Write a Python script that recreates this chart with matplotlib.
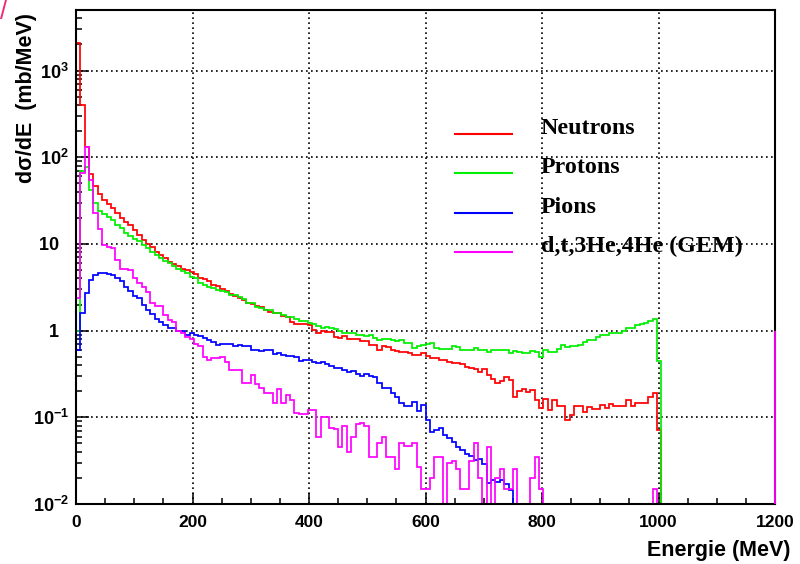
import numpy as np
import matplotlib
matplotlib.use("Agg")
import matplotlib.pyplot as plt
from matplotlib.ticker import MultipleLocator, LogLocator, FuncFormatter, NullFormatter

# histogram: 160 bins of 7.5 MeV from 0 to 1200 MeV, values in mb/MeV
e_min, e_max, n_bins = 0, 1200, 160

neutrons = [
    2060, 400, 130, 64, 47, 38, 32, 29, 25.7, 22.5,
    19.7, 18, 16.5, 14.5, 12.7, 11.1, 10.1, 9.3, 8.1, 7.4,
    6.8, 6.2, 5.8, 5.5, 5.2, 5.0, 4.8, 4.45, 4.1, 3.9,
    3.7, 3.4, 3.25, 3.0, 2.9, 2.65, 2.5, 2.4, 2.28, 2.1,
    2.05, 1.9, 1.85, 1.75, 1.62, 1.6, 1.58, 1.46, 1.44, 1.25,
    1.2, 1.2, 1.18, 1.15, 1.03, 0.95, 1.0, 0.97, 0.97, 0.85,
    0.82, 0.87, 0.79, 0.8, 0.8, 0.76, 0.75, 0.69, 0.69, 0.6,
    0.66, 0.64, 0.6, 0.58, 0.56, 0.56, 0.55, 0.53, 0.52, 0.55,
    0.51, 0.48, 0.48, 0.46, 0.46, 0.43, 0.42, 0.42, 0.41, 0.38,
    0.37, 0.36, 0.33, 0.36, 0.31, 0.28, 0.25, 0.26, 0.29, 0.27,
    0.17, 0.2, 0.21, 0.195, 0.206, 0.157, 0.128, 0.163, 0.123, 0.157,
    0.136, 0.136, 0.094, 0.107, 0.134, 0.134, 0.114, 0.13, 0.125, 0.125,
    0.14, 0.128, 0.144, 0.134, 0.134, 0.136, 0.157, 0.136, 0.147, 0.147,
    0.147, 0.17, 0.19, 0.072,
] + [0] * 26

protons = [
    1.0, 70, 78, 42, 29.5, 24, 22, 20.5, 19, 16.6,
    15.2, 13.3, 12.2, 11.5, 10.7, 9.8, 9.0, 8.1, 7.5, 6.8,
    6.4, 6.0, 5.6, 5.1, 4.9, 4.6, 4.2, 4.0, 3.55, 3.4,
    3.19, 3.1, 2.97, 2.85, 2.77, 2.6, 2.55, 2.45, 2.32, 2.1,
    2.08, 1.88, 1.8, 1.75, 1.72, 1.6, 1.6, 1.53, 1.45, 1.42,
    1.36, 1.3, 1.28, 1.23, 1.2, 1.12, 1.07, 1.09, 1.07, 1.05,
    1.0, 0.94, 0.94, 0.93, 0.9, 0.9, 0.86, 0.88, 0.82, 0.77,
    0.8, 0.79, 0.77, 0.75, 0.78, 0.72, 0.72, 0.63, 0.67, 0.69,
    0.7, 0.72, 0.63, 0.61, 0.61, 0.61, 0.66, 0.65, 0.6, 0.6,
    0.6, 0.63, 0.6, 0.6, 0.57, 0.6, 0.59, 0.6, 0.6, 0.55,
    0.58, 0.56, 0.55, 0.55, 0.58, 0.56, 0.5, 0.6, 0.57, 0.57,
    0.61, 0.68, 0.64, 0.66, 0.66, 0.68, 0.73, 0.78, 0.78, 0.85,
    0.89, 0.89, 0.93, 0.95, 0.93, 1.0, 1.08, 1.08, 1.16, 1.18,
    1.22, 1.29, 1.37, 0.45,
] + [0] * 26

pions = [
    0.6, 1.6, 2.7, 3.8, 4.4, 4.6, 4.6, 4.5, 4.4, 4.0,
    3.7, 3.2, 2.9, 2.5, 2.35, 2.0, 1.75, 1.55, 1.35, 1.25,
    1.15, 1.06, 1.08, 1.0, 0.98, 0.9, 0.93, 0.9, 0.87, 0.83,
    0.78, 0.73, 0.69, 0.7, 0.71, 0.71, 0.66, 0.68, 0.67, 0.66,
    0.6, 0.6, 0.58, 0.59, 0.59, 0.54, 0.55, 0.52, 0.51, 0.505,
    0.49, 0.45, 0.46, 0.455, 0.43, 0.42, 0.43, 0.41, 0.39, 0.37,
    0.37, 0.35, 0.33, 0.34, 0.32, 0.3, 0.32, 0.3, 0.29, 0.25,
    0.22, 0.22, 0.19, 0.17, 0.145, 0.135, 0.135, 0.15, 0.117, 0.14,
    0.093, 0.068, 0.072, 0.075, 0.063, 0.057, 0.052, 0.046, 0.042, 0.038,
    0.036, 0.032, 0.033, 0.029, 0.0174, 0.019, 0.018, 0.019, 0.017, 0.0145,
] + [0] * 60

light_ions = [
    2.4, 65, 130, 54, 23, 15, 9.7, 9.3, 9.0, 6.5,
    5.2, 5.2, 5.0, 4.0, 3.5, 3.2, 2.8, 2.06, 1.9, 1.9,
    1.5, 1.32, 1.27, 1.0, 0.93, 0.85, 0.8, 0.7, 0.66, 0.5,
    0.46, 0.48, 0.48, 0.5, 0.43, 0.35, 0.35, 0.35, 0.25, 0.25,
    0.31, 0.24, 0.22, 0.19, 0.19, 0.146, 0.21, 0.146, 0.18, 0.16,
    0.112, 0.11, 0.11, 0.12, 0.12, 0.06, 0.1, 0.1, 0.075, 0.073,
    0.046, 0.08, 0.04, 0.06, 0.083, 0.087, 0.08, 0.035, 0.035, 0.05,
    0.06, 0.035, 0.035, 0.025, 0.05, 0.047, 0.047, 0.05, 0.027, 0.015,
    0.015, 0.02, 0.035, 0.035, 0, 0.03, 0.031, 0.025, 0.015, 0.015,
    0.031, 0.05, 0.02, 0, 0.045, 0, 0.02, 0.025, 0.015, 0.015,
    0.025, 0, 0, 0, 0.02, 0.035, 0.015,
] + [0] * 25 + [0.015] + [0] * 27
light_ions_overflow = 1.0

labels = ["Neutrons", "Protons", "Pions", "d,t,3He,4He (GEM)"]
colors = ["#ff0000", "#00ee00", "#0000ff", "#ff00ff"]
series = [neutrons, protons, pions, light_ions]

y_min, y_max = 0.01, 5000

plt.rcParams['font.family'] = 'Liberation Sans'
plt.rcParams['font.weight'] = 'bold'
plt.rcParams['axes.labelweight'] = 'bold'
plt.rcParams['mathtext.fontset'] = 'custom'
plt.rcParams['mathtext.rm'] = 'Liberation Sans:bold'
plt.rcParams['mathtext.bf'] = 'Liberation Sans:bold'
plt.rcParams['mathtext.it'] = 'Liberation Sans:bold'
plt.rcParams['mathtext.default'] = 'rm'

fig = plt.figure(figsize=(8, 5.64), dpi=100)
ax = fig.add_axes([0.095, 0.1064, 0.87375, 0.8759])

edges = np.linspace(e_min, e_max, n_bins + 1)
for vals, col in zip(series, colors):
    v = np.clip(np.array(vals, dtype=float), y_min, None)
    ax.stairs(v, edges, baseline=y_min, color=col, lw=1.25, zorder=2)

ax.vlines(e_max, y_min, light_ions_overflow, color=colors[3], lw=1.3,
          zorder=3, clip_on=False)

ax.set_yscale('log')
ax.set_xlim(e_min, e_max)
ax.set_ylim(y_min, y_max)

ax.xaxis.set_major_locator(MultipleLocator(200))
ax.xaxis.set_minor_locator(MultipleLocator(50))
ax.yaxis.set_major_locator(LogLocator(base=10, numticks=20))
ax.yaxis.set_minor_locator(LogLocator(base=10, subs=np.arange(2, 10), numticks=20))
ax.yaxis.set_minor_formatter(NullFormatter())


def y_fmt(v, pos):
    e = int(round(np.log10(v)))
    if e == 0:
        return "1  "
    if e == 1:
        return "10  "
    return r"$10^{%d}$" % e


ax.yaxis.set_major_formatter(FuncFormatter(y_fmt))

ax.tick_params(which='both', direction='in', top=False, right=False)
ax.tick_params(axis='x', which='major', length=8, width=1.1, labelsize=12.5, pad=8)
ax.tick_params(axis='x', which='minor', length=4.3, width=1.1)
ax.tick_params(axis='y', which='major', length=9, width=1.1, labelsize=13, pad=5)
ax.tick_params(axis='y', which='minor', length=4.3, width=1.1)
for t in ax.get_xticklabels() + ax.get_yticklabels():
    t.set_fontweight('bold')

ax.grid(True, which='major', color='black', ls=(0, (1, 2)), lw=1.2)
for sp in ax.spines.values():
    sp.set_linewidth(1.5)

ax.set_xlabel("Energie (MeV)", fontsize=15.5, fontweight='bold', loc='right')
ax.xaxis.set_label_coords(1.022, -0.073)
ax.set_ylabel("d\u03c3/dE  (mb/MeV)", fontsize=15.5, fontweight='bold', loc='top')
ax.yaxis.set_label_coords(-0.056, 0.994)

# legend drawn as ROOT does it: line key on the text baseline
leg_font = {'family': 'Liberation Serif', 'weight': 'bold', 'size': 17.3}
for i, (lab, col) in enumerate(zip(labels, colors)):
    yk = 0.7490 - i * 0.0795
    ax.plot([0.5422, 0.6237], [yk, yk], color=col, lw=1.5, transform=ax.transAxes,
            clip_on=False)
    ax.text(0.6652, yk, lab, transform=ax.transAxes, ha='left', va='baseline',
            fontdict=leg_font)

fig.text(0.0, 1.0, "/", color='#f0287a', fontsize=18, ha='left', va='top',
         fontweight='normal')

fig.savefig("out.png", dpi=100)
